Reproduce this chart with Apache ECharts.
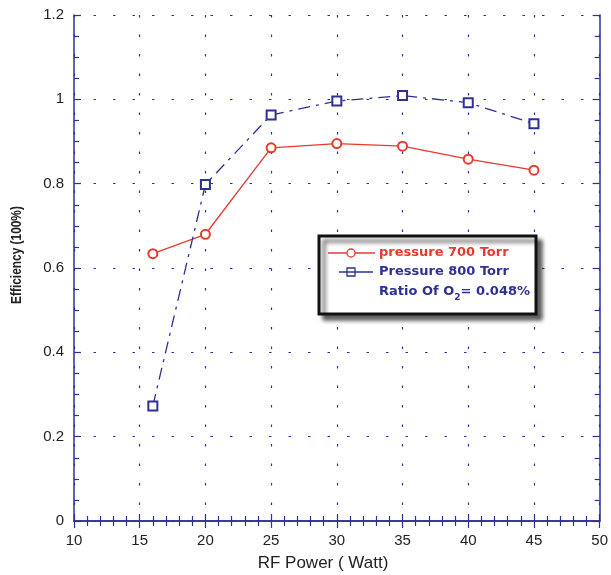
<!DOCTYPE html>
<html>
<head>
<meta charset="utf-8">
<script src="https://cdn.jsdelivr.net/npm/echarts@6/dist/echarts.min.js"></script>
<style>html,body{margin:0;padding:0;background:#fff}#c{width:611px;height:575px}</style>
</head>
<body>
<div id="c"></div>
<script>
var rfPower = [16, 20, 25, 30, 35, 40, 45];
var eff700 = [0.634, 0.680, 0.885, 0.895, 0.889, 0.858, 0.832];
var eff800 = [0.273, 0.798, 0.963, 0.996, 1.009, 0.992, 0.942];
var xTitle = 'RF Power ( Watt)';
var yTitle = 'Efficiency (100%)';
var legendNames = ['pressure 700 Torr', 'Pressure 800 Torr'];

var NAVY = '#2e3192';
var RED = '#e8392f';
var FONT = 'Liberation Sans, Arial, sans-serif';
var LFONT = 'DejaVu Sans, sans-serif';

function pairs(xs, ys) { return xs.map(function (x, i) { return [x, ys[i]]; }); }

var chart = echarts.init(document.getElementById('c'));
var gridLine = { show: true, lineStyle: { color: NAVY, width: 1.2, type: [2.5, 17] } };
function axisParts(split) {
  return {
    axisLine: { show: true, lineStyle: { color: NAVY, width: 1.5 } },
    axisTick: { show: true, inside: true, length: 7, lineStyle: { color: NAVY, width: 1.2 } },
    minorTick: { show: true, splitNumber: split, length: 5, lineStyle: { color: NAVY, width: 1.2 } }
  };
}
chart.setOption({
  animation: false,
  grid: { left: 74, right: 10, top: 15, bottom: 54, containLabel: false },
  xAxis: [
    Object.assign({ type: 'value', min: 10, max: 50, interval: 5, position: 'bottom',
      axisLabel: { color: '#222', fontSize: 15, fontFamily: FONT, margin: 12 },
      splitLine: gridLine }, axisParts(5)),
    Object.assign({ type: 'value', min: 10, max: 50, interval: 5, position: 'top',
      axisLabel: { show: false }, splitLine: { show: false } }, axisParts(5))
  ],
  yAxis: [
    Object.assign({ type: 'value', min: 0, max: 1.2, interval: 0.2, position: 'left',
      axisLabel: { color: '#222', fontSize: 15, fontFamily: FONT, margin: 10 },
      splitLine: gridLine }, axisParts(4)),
    Object.assign({ type: 'value', min: 0, max: 1.2, interval: 0.2, position: 'right',
      axisLabel: { show: false }, splitLine: { show: false } }, axisParts(4))
  ],
  series: [
    { name: legendNames[0], type: 'line', data: pairs(rfPower, eff700),
      symbol: 'emptyCircle', symbolSize: 9,
      lineStyle: { color: RED, width: 1.3 }, itemStyle: { color: RED, borderColor: RED, borderWidth: 1.3 } },
    { name: legendNames[1], type: 'line', data: pairs(rfPower, eff800),
      symbol: 'emptyRect', symbolSize: 9,
      lineStyle: { color: NAVY, width: 1.3, type: [12, 6, 3, 6] }, itemStyle: { color: NAVY, borderColor: NAVY, borderWidth: 1.3 } }
  ],
  graphic: [
    { type: 'text', x: 323, y: 563, style: { text: xTitle, fontSize: 17, fontFamily: FONT, fill: '#222', align: 'center', verticalAlign: 'middle' } },
    { type: 'text', x: 17, y: 255, rotation: Math.PI / 2, scaleX: 0.82, style: { text: yTitle, fontSize: 14.5, fontWeight: 'bold', fontFamily: FONT, fill: '#222', align: 'center', verticalAlign: 'middle' } },
    { type: 'rect', shape: { x: 319, y: 236, width: 217, height: 78 }, z: 10,
      style: { fill: '#fff', stroke: '#111', lineWidth: 3, shadowColor: 'rgba(0,0,0,0.6)', shadowBlur: 4, shadowOffsetX: 5, shadowOffsetY: 5 } },
    { type: 'line', z: 11, shape: { x1: 328, y1: 253, x2: 375, y2: 253 }, style: { stroke: RED, lineWidth: 1.3 } },
    { type: 'circle', z: 11, shape: { cx: 351, cy: 253, r: 4 }, style: { fill: '#fff', stroke: RED, lineWidth: 1.3 } },
    { type: 'line', z: 11, shape: { x1: 339, y1: 272, x2: 373, y2: 272 }, style: { stroke: NAVY, lineWidth: 1.3 } },
    { type: 'rect', z: 11, shape: { x: 347, y: 268, width: 8, height: 8 }, style: { fill: 'none', stroke: NAVY, lineWidth: 1.3 } },
    { type: 'text', z: 11, x: 379, y: 253, style: { text: legendNames[0], fontSize: 13, fontWeight: 'bold', fontFamily: LFONT, fill: RED, verticalAlign: 'middle' } },
    { type: 'text', z: 11, x: 379, y: 272, style: { text: legendNames[1], fontSize: 13, fontWeight: 'bold', fontFamily: LFONT, fill: NAVY, verticalAlign: 'middle' } },
    { type: 'text', z: 11, x: 379, y: 292, style: { text: 'Ratio Of O{s|2}= 0.048%', fontSize: 13, fontWeight: 'bold', fontFamily: LFONT, fill: NAVY, verticalAlign: 'middle',
      rich: { s: { fontSize: 9, fontWeight: 'bold', fontFamily: LFONT, fill: NAVY, padding: [12, 0, 0, 0] } } } }
  ]
});
</script>
</body>
</html>
